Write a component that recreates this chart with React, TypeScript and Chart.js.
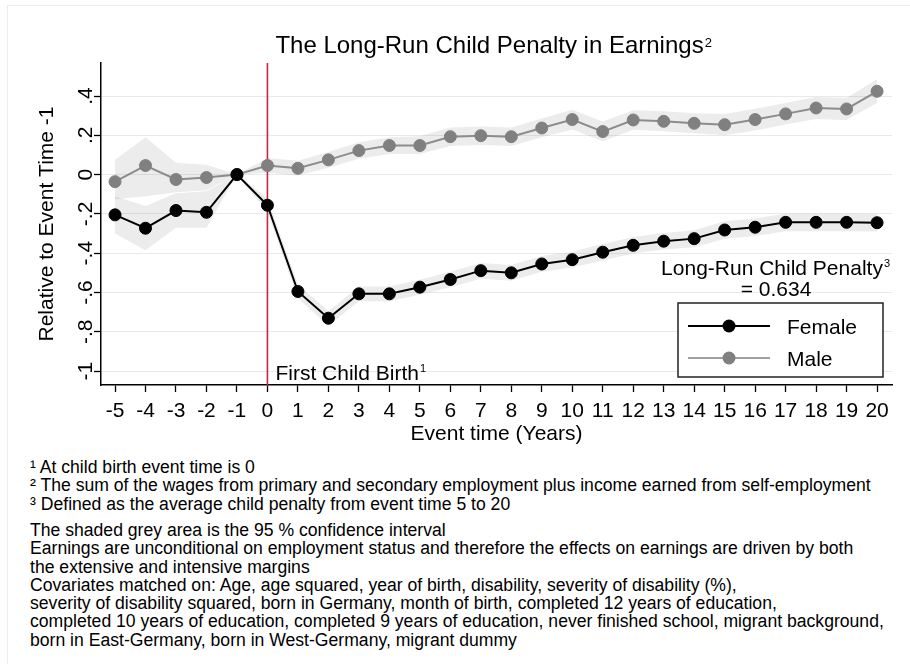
import React, { useEffect, useRef } from 'react';
import { Chart, registerables } from 'chart.js';

Chart.register(...registerables);

// ---------- data ----------
const eventTime = [-5, -4, -3, -2, -1, 0, 1, 2, 3, 4, 5, 6, 7, 8, 9, 10, 11, 12, 13, 14, 15, 16, 17, 18, 19, 20];

const femaleEstimate = [-0.205, -0.273, -0.183, -0.192, 0, -0.156, -0.595, -0.731, -0.607, -0.607, -0.573, -0.534, -0.489, -0.5, -0.455, -0.433, -0.395, -0.36, -0.339, -0.326, -0.282, -0.268, -0.243, -0.243, -0.243, -0.245];
const femaleLower = [-0.3, -0.385, -0.27, -0.27, 0, -0.19, -0.63, -0.77, -0.645, -0.645, -0.612, -0.573, -0.53, -0.54, -0.495, -0.473, -0.437, -0.402, -0.381, -0.37, -0.326, -0.312, -0.288, -0.288, -0.288, -0.29];
const femaleUpper = [-0.11, -0.16, -0.095, -0.085, 0, -0.12, -0.56, -0.695, -0.57, -0.57, -0.535, -0.495, -0.45, -0.46, -0.415, -0.393, -0.353, -0.318, -0.297, -0.283, -0.238, -0.224, -0.198, -0.198, -0.198, -0.2];

const maleEstimate = [-0.036, 0.046, -0.025, -0.015, 0, 0.046, 0.032, 0.075, 0.122, 0.148, 0.148, 0.193, 0.198, 0.193, 0.237, 0.28, 0.219, 0.278, 0.271, 0.261, 0.254, 0.28, 0.309, 0.339, 0.334, 0.424];
const maleLower = [-0.125, -0.11, -0.09, -0.08, 0, 0.01, -0.005, 0.035, 0.08, 0.105, 0.105, 0.145, 0.15, 0.145, 0.19, 0.23, 0.17, 0.228, 0.22, 0.21, 0.2, 0.225, 0.255, 0.283, 0.278, 0.365];
const maleUpper = [0.075, 0.19, 0.06, 0.05, 0, 0.085, 0.07, 0.115, 0.165, 0.19, 0.195, 0.24, 0.245, 0.24, 0.285, 0.33, 0.27, 0.328, 0.322, 0.312, 0.308, 0.335, 0.364, 0.395, 0.39, 0.485];

const xTickValues = [-5, -4, -3, -2, -1, 0, 1, 2, 3, 4, 5, 6, 7, 8, 9, 10, 11, 12, 13, 14, 15, 16, 17, 18, 19, 20];
const yTickValues = [-1, -0.8, -0.6, -0.4, -0.2, 0, 0.2, 0.4];
const yTickLabels = ['-1', '-.8', '-.6', '-.4', '-.2', '0', '.2', '.4'];

const birthEventTime = 0;
const longRunPenalty = '0.634';

const titleText = 'The Long-Run Child Penalty in Earnings';
const xAxisTitle = 'Event time (Years)';
const yAxisTitle = 'Relative to Event Time -1';

const footnotes1 = [
  '¹ At child birth event time is 0',
  '² The sum of the wages from primary and secondary employment plus income earned from self-employment',
  '³ Defined as the average child penalty from event time 5 to 20',
];
const footnotes2 = [
  'The shaded grey area is the 95 % confidence interval',
  'Earnings are unconditional on employment status and therefore the effects on earnings are driven by both',
  'the extensive and intensive margins',
  'Covariates matched on: Age, age squared, year of birth, disability, severity of disability (%),',
  'severity of disability squared, born in Germany, month of birth, completed 12 years of education,',
  'completed 10 years of education, completed 9 years of education, never finished school, migrant background,',
  'born in East-Germany, born in West-Germany, migrant dummy',
];

// ---------- styles ----------
const FONT = '"Liberation Sans", Arial, Helvetica, sans-serif';
const FEMALE_COLOR = '#000000';
const MALE_MARKER = '#808080';
const MALE_LINE = '#8c8c8c';
const BAND = 'rgba(110,110,110,0.13)';
const GRID = '#e4ebf0';
const RED = '#c8243f';

const pts = (ys: number[]) => eventTime.map((x, i) => ({ x, y: ys[i] }));

const annotationPlugin = {
  id: 'annotations',
  beforeDatasetDraw(chart: any, args: any) {
    if (args.index !== 1) return;
    const { ctx, chartArea } = chart;
    const xs = chart.scales.x;
    const px = xs.getPixelForValue(birthEventTime);
    ctx.save();
    ctx.strokeStyle = RED;
    ctx.lineWidth = 1.6;
    ctx.beginPath();
    ctx.moveTo(px, chartArea.top);
    ctx.lineTo(px, chartArea.bottom);
    ctx.stroke();
    ctx.restore();
  },
  afterDraw(chart: any) {
    const { ctx, chartArea } = chart;
    const xs = chart.scales.x;
    const ys = chart.scales.y;
    ctx.save();
    ctx.fillStyle = '#000';

    // title
    ctx.font = `24px ${FONT}`;
    const tw = ctx.measureText(titleText).width;
    const tcx = (chartArea.left + chartArea.right) / 2 - 7;
    const tx = tcx - tw / 2;
    ctx.textAlign = 'left';
    ctx.textBaseline = 'alphabetic';
    ctx.fillText(titleText, tx, 53);
    ctx.font = `13px ${FONT}`;
    ctx.fillText('2', tx + tw + 1, 47);

    // y tick labels (rotated)
    ctx.font = `21px ${FONT}`;
    yTickValues.forEach((v, i) => {
      const py = ys.getPixelForValue(v);
      ctx.save();
      ctx.translate(chartArea.left - 9, py);
      ctx.rotate(-Math.PI / 2);
      ctx.textAlign = 'center';
      ctx.textBaseline = 'alphabetic';
      ctx.fillText(yTickLabels[i], 0, 0);
      ctx.restore();
    });

    // x tick labels
    ctx.textAlign = 'center';
    ctx.textBaseline = 'alphabetic';
    xTickValues.forEach((v) => {
      ctx.fillText(String(v), xs.getPixelForValue(v), chartArea.bottom + 32);
    });

    // axis titles
    ctx.fillText(xAxisTitle, (chartArea.left + chartArea.right) / 2, chartArea.bottom + 55);
    ctx.save();
    ctx.translate(53, (chartArea.top + chartArea.bottom) / 2);
    ctx.rotate(-Math.PI / 2);
    ctx.fillText(yAxisTitle, 0, 0);
    ctx.restore();

    // first child birth label
    const bx = xs.getPixelForValue(birthEventTime) + 8;
    const by = ys.getPixelForValue(-1) + 9;
    ctx.textAlign = 'left';
    const fcb = 'First Child Birth';
    ctx.fillText(fcb, bx, by);
    const fw = ctx.measureText(fcb).width;
    ctx.font = `11px ${FONT}`;
    ctx.fillText('1', bx + fw + 1, by - 8);

    // long-run penalty label
    ctx.font = `21px ${FONT}`;
    const lcx = chartArea.right - 117;
    const lr = 'Long-Run Child Penalty';
    const lw = ctx.measureText(lr).width;
    ctx.textAlign = 'left';
    ctx.fillText(lr, lcx - lw / 2 - 3, 275);
    ctx.font = `11px ${FONT}`;
    ctx.fillText('3', lcx + lw / 2 - 2, 267);
    ctx.font = `21px ${FONT}`;
    ctx.textAlign = 'center';
    ctx.fillText('= ' + longRunPenalty, lcx + 1, 296);

    // legend
    const L = chartArea.right - 214;
    const R = chartArea.right - 9;
    const T = chartArea.bottom - 82;
    const B = chartArea.bottom - 8;
    ctx.fillStyle = '#fff';
    ctx.fillRect(L, T, R - L, B - T);
    ctx.strokeStyle = '#222';
    ctx.lineWidth = 1.5;
    ctx.strokeRect(L, T, R - L, B - T);
    const rows = [
      { label: 'Female', line: FEMALE_COLOR, marker: FEMALE_COLOR, y: T + 23 },
      { label: 'Male', line: '#a0a0a0', marker: MALE_MARKER, y: T + 55 },
    ];
    rows.forEach((r) => {
      ctx.strokeStyle = r.line;
      ctx.lineWidth = 2;
      ctx.beginPath();
      ctx.moveTo(L + 10, r.y);
      ctx.lineTo(L + 92, r.y);
      ctx.stroke();
      ctx.fillStyle = r.marker;
      ctx.beginPath();
      ctx.arc(L + 51, r.y, 6.5, 0, Math.PI * 2);
      ctx.fill();
      ctx.fillStyle = '#000';
      ctx.font = `21px ${FONT}`;
      ctx.textAlign = 'left';
      ctx.fillText(r.label, L + 109, r.y + 7.5);
    });
    ctx.restore();
  },
};

export default function App() {
  const ref = useRef<HTMLCanvasElement | null>(null);

  useEffect(() => {
    if (!ref.current) return;
    const chart = new Chart(ref.current, {
      type: 'line',
      data: {
        datasets: [
          {
            label: 'Female',
            data: pts(femaleEstimate),
            borderColor: FEMALE_COLOR,
            backgroundColor: FEMALE_COLOR,
            pointBackgroundColor: FEMALE_COLOR,
            pointBorderColor: FEMALE_COLOR,
            pointRadius: 6,
            pointBorderWidth: 1,
            borderWidth: 2,
            fill: false,
            order: 0,
          },
          {
            label: 'Male',
            data: pts(maleEstimate),
            borderColor: MALE_LINE,
            backgroundColor: MALE_MARKER,
            pointBackgroundColor: MALE_MARKER,
            pointBorderColor: MALE_MARKER,
            pointRadius: 6,
            pointBorderWidth: 1,
            borderWidth: 2,
            fill: false,
            order: 1,
          },
          {
            label: 'Male upper',
            data: pts(maleUpper),
            borderWidth: 0,
            pointRadius: 0,
            backgroundColor: BAND,
            borderColor: 'rgba(0,0,0,0)',
            fill: '+1',
            order: 2,
          },
          {
            label: 'Male lower',
            data: pts(maleLower),
            borderWidth: 0,
            pointRadius: 0,
            borderColor: 'rgba(0,0,0,0)',
            fill: false,
            order: 3,
          },
          {
            label: 'Female upper',
            data: pts(femaleUpper),
            borderWidth: 0,
            pointRadius: 0,
            backgroundColor: BAND,
            borderColor: 'rgba(0,0,0,0)',
            fill: '+1',
            order: 4,
          },
          {
            label: 'Female lower',
            data: pts(femaleLower),
            borderWidth: 0,
            pointRadius: 0,
            borderColor: 'rgba(0,0,0,0)',
            fill: false,
            order: 5,
          },
        ],
      },
      options: {
        animation: false,
        responsive: false,
        devicePixelRatio: 1,
        events: [],
        layout: { padding: { top: 63, right: 18, left: 0, bottom: 0 } },
        plugins: {
          legend: { display: false },
          title: { display: false },
          tooltip: { enabled: false },
        },
        scales: {
          x: {
            type: 'linear',
            min: -5.46,
            max: 20.49,
            afterBuildTicks: (s: any) => {
              s.ticks = xTickValues.map((v) => ({ value: v }));
            },
            afterFit: (s: any) => {
              s.height = 65;
            },
            ticks: { display: false, autoSkip: false },
            grid: {
              drawOnChartArea: false,
              drawTicks: true,
              tickLength: 7,
              tickColor: '#000',
              tickWidth: 1.3,
            },
            border: { display: true, color: '#000', width: 1.5 },
          },
          y: {
            type: 'linear',
            min: -1.071,
            max: 0.568,
            afterBuildTicks: (s: any) => {
              s.ticks = yTickValues.map((v) => ({ value: v }));
            },
            afterFit: (s: any) => {
              s.width = 101;
            },
            ticks: { display: false, autoSkip: false },
            grid: {
              color: GRID,
              lineWidth: 1,
              drawTicks: true,
              tickLength: 7,
              tickColor: '#000',
              tickWidth: 1.3,
            },
            border: { display: true, color: '#000', width: 1.5 },
          },
        },
      },
      plugins: [annotationPlugin],
    } as any);
    return () => chart.destroy();
  }, []);

  const noteStyle: React.CSSProperties = {
    position: 'absolute',
    left: 30,
    margin: 0,
    font: `17.6px ${FONT}`,
    lineHeight: '18.3px',
    color: '#000',
    whiteSpace: 'nowrap',
  };

  return (
    <div style={{ position: 'absolute', left: 0, top: 0, width: 910, height: 664, background: '#fff', overflow: 'hidden' }}>
      <div style={{ position: 'absolute', left: 7, top: 5, width: 903, height: 1, background: '#ececec' }} />
      <div style={{ position: 'absolute', left: 7, top: 5, width: 1, height: 659, background: '#ececec' }} />
      <canvas ref={ref} width={910} height={450} style={{ position: 'absolute', left: 0, top: 0, width: 910, height: 450 }} />
      <div style={{ ...noteStyle, top: 458 }}>
        {footnotes1.map((t, i) => (
          <div key={i}>{t}</div>
        ))}
      </div>
      <div style={{ ...noteStyle, top: 521 }}>
        {footnotes2.map((t, i) => (
          <div key={i}>{t}</div>
        ))}
      </div>
    </div>
  );
}
